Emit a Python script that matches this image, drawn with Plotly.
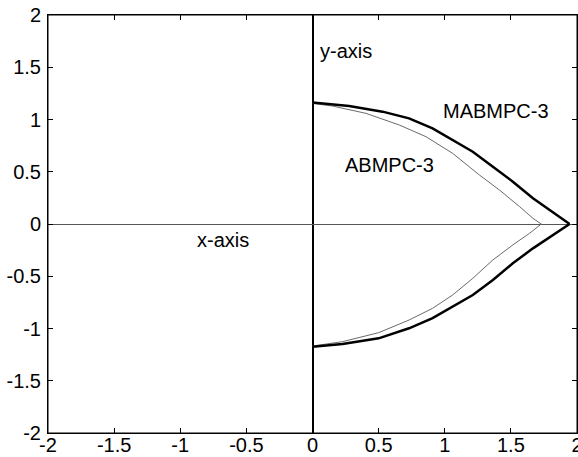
import plotly.graph_objects as go

# MABMPC-3 (thick) upper and lower boundaries
mab_up_x = [0.0, 0.088, 0.277, 0.53, 0.73, 0.908, 1.06, 1.212, 1.364, 1.515, 1.667, 1.818, 1.944]
mab_up_y = [1.163, 1.154, 1.129, 1.075, 1.011, 0.915, 0.804, 0.692, 0.548, 0.405, 0.246, 0.108, 0.0]
mab_lo_x = [0.0, 0.227, 0.5, 0.73, 0.908, 1.06, 1.212, 1.364, 1.515, 1.667, 1.818, 1.944]
mab_lo_y = [-1.174, -1.148, -1.094, -0.998, -0.9, -0.79, -0.679, -0.536, -0.376, -0.233, -0.105, 0.0]

# ABMPC-3 (thin) upper and lower boundaries
ab_up_x = [0.0, 0.15, 0.404, 0.657, 0.859, 1.06, 1.263, 1.414, 1.566, 1.667, 1.73]
ab_up_y = [1.154, 1.129, 1.059, 0.947, 0.835, 0.676, 0.468, 0.325, 0.166, 0.054, 0.0]
ab_lo_x = [0.0, 0.227, 0.5, 0.73, 0.908, 1.06, 1.212, 1.364, 1.515, 1.641, 1.73]
ab_lo_y = [-1.168, -1.126, -1.04, -0.919, -0.807, -0.679, -0.52, -0.344, -0.2, -0.089, 0.0]

tick_vals = [-2, -1.5, -1, -0.5, 0, 0.5, 1, 1.5, 2]
tick_text = ["-2", "-1.5", "-1", "-0.5", "0", "0.5", "1", "1.5", "2"]

FONT = "Liberation Sans, Arial, sans-serif"
FS = 20

fig = go.Figure()
thin = dict(color="#6a6a6a", width=1)
thick = dict(color="black", width=2.5)
fig.add_trace(go.Scatter(x=ab_up_x, y=ab_up_y, mode="lines", line=thin))
fig.add_trace(go.Scatter(x=ab_lo_x, y=ab_lo_y, mode="lines", line=thin))
fig.add_trace(go.Scatter(x=mab_up_x, y=mab_up_y, mode="lines", line=thick))
fig.add_trace(go.Scatter(x=mab_lo_x, y=mab_lo_y, mode="lines", line=thick))

labels = [("y-axis", 0.255, 1.655), ("MABMPC-3", 1.384, 1.086),
          ("ABMPC-3", 0.581, 0.56), ("x-axis", -0.677, -0.153)]
for t, x, y in labels:
    fig.add_annotation(x=x, y=y, text=t, showarrow=False,
                       font=dict(family=FONT, size=FS, color="black"))

axis_common = dict(
    tickvals=tick_vals, ticktext=tick_text, ticks="inside", ticklen=5,
    tickcolor="black", showline=True, linecolor="black", linewidth=1,
    mirror="ticks", showgrid=False, automargin=False, ticklabeloverflow="allow",
    tickfont=dict(family=FONT, size=FS, color="black"),
)
fig.update_xaxes(range=[-2, 2], zeroline=True, zerolinecolor="black",
                 zerolinewidth=1.5, ticklabelstandoff=-6, **axis_common)
fig.update_yaxes(range=[-2, 2], zeroline=True, zerolinecolor="#555555",
                 zerolinewidth=1, ticklabelstandoff=2, **axis_common)

# plot-area frame
fig.add_shape(type="rect", xref="paper", yref="paper", x0=0, y0=0, x1=1, y1=1,
              line=dict(color="black", width=1), layer="above")

fig.update_layout(
    width=578, height=457, showlegend=False,
    margin=dict(l=48, r=1, t=15, b=24),
    plot_bgcolor="white", paper_bgcolor="white",
)

# remove the browser's default 8px body margin so the figure fills the window
fig.write_html("out.html", config={"displayModeBar": False},
               post_script="document.body.style.margin='0';document.body.style.overflow='hidden';")
